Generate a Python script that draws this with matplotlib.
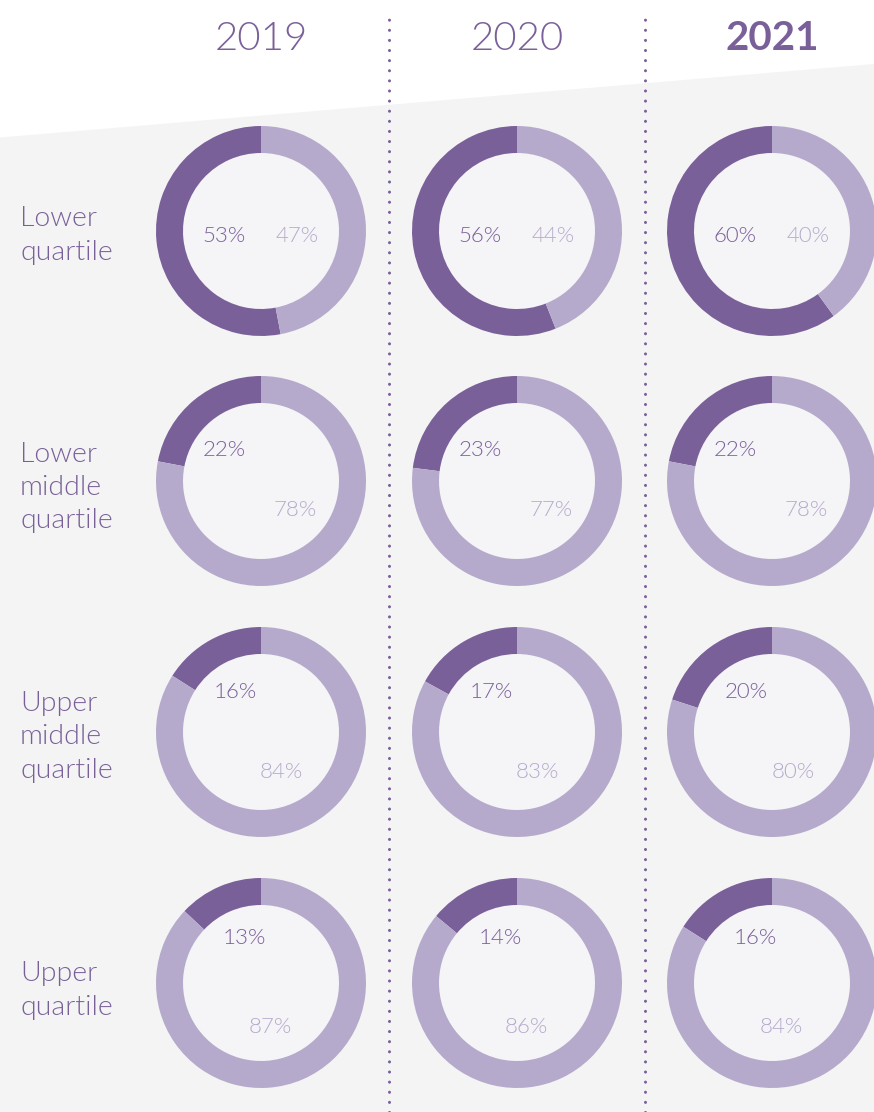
import numpy as np
import matplotlib.pyplot as plt
from matplotlib.patches import Circle

years = ["2019", "2020", "2021"]
quartiles = ["Lower\nquartile", "Lower\nmiddle\nquartile", "Upper\nmiddle\nquartile", "Upper\nquartile"]
# share of the dark segment per quartile (rows) and year (columns)
dark_share = [
    [53, 56, 60],
    [22, 23, 22],
    [16, 17, 20],
    [13, 14, 16],
]
light_share = [
    [47, 44, 40],
    [78, 77, 78],
    [84, 83, 80],
    [87, 86, 84],
]

DARK = "#7a6099"
LIGHT = "#b6aacc"
BG = "#f4f4f5"
INNER = "#f5f4f7"
FONT = "Lato"

W, H = 874, 1112
fig = plt.figure(figsize=(W / 100, H / 100), dpi=100)
ax = fig.add_axes([0, 0, 1, 1])

# slanted grey background
ax.fill([0, W, W, 0], [H - 137.5, H - 64, 0, 0], color=BG, lw=0, zorder=0)

col_x = [261, 517, 772]
row_y = [231, 481, 732, 983]
label_shift = [-4.5, -6.5, -5, -7.5]
R_out, ring = 105, 27

for j, yr in enumerate(years):
    ax.text(col_x[j], H - 38.5, yr, ha="center", va="center", fontsize=29,
            color=DARK, family=FONT, fontweight=700 if j == 2 else 300)

for i, q in enumerate(quartiles):
    ax.text(20, H - row_y[i] + label_shift[i], q, ha="left", va="center",
            fontsize=20.5, color=DARK, family=FONT, fontweight=300,
            linespacing=1.42)
    mean_d = np.mean(dark_share[i])
    for j in range(3):
        cx, cy = col_x[j], H - row_y[i]
        d, l = dark_share[i][j], light_share[i][j]
        ax.pie([d, l], colors=[DARK, LIGHT], startangle=90, counterclock=True,
               center=(cx, cy), radius=R_out,
               wedgeprops=dict(width=ring, linewidth=0), frame=True)
        ax.add_patch(Circle((cx, cy), R_out - ring, color=INNER, lw=0, zorder=0.5))
        if d > 40:
            pd = (cx - 37, cy - 5)
            pl = (cx + 36, cy - 5)
        else:
            # label angles measured from the top (dark) and the bottom (light)
            td = np.radians(3.74 * mean_d - 33.6)
            tl = np.radians(4.74 * mean_d - 56.3)
            pd = (cx - 48 * np.sin(td), cy + 48 * np.cos(td))
            pl = (cx + 45 * np.sin(tl), cy - 45 * np.cos(tl))
        ax.text(*pd, f"{d}%", ha="center", va="center", fontsize=16,
                color=DARK, family=FONT, fontweight=300)
        ax.text(*pl, f"{l}%", ha="center", va="center", fontsize=16,
                color=LIGHT, family=FONT, fontweight=300)

# dotted separators
for x in [389, 645]:
    ax.plot([x, x], [0, H - 17], color=DARK, lw=2.2,
            linestyle=(0, (0.01, 3.3)), dash_capstyle="round", zorder=3)

ax.set_xlim(0, W)
ax.set_ylim(0, H)
ax.set_aspect("auto")
ax.axis("off")
fig.savefig("out.png", dpi=100, facecolor="white")
